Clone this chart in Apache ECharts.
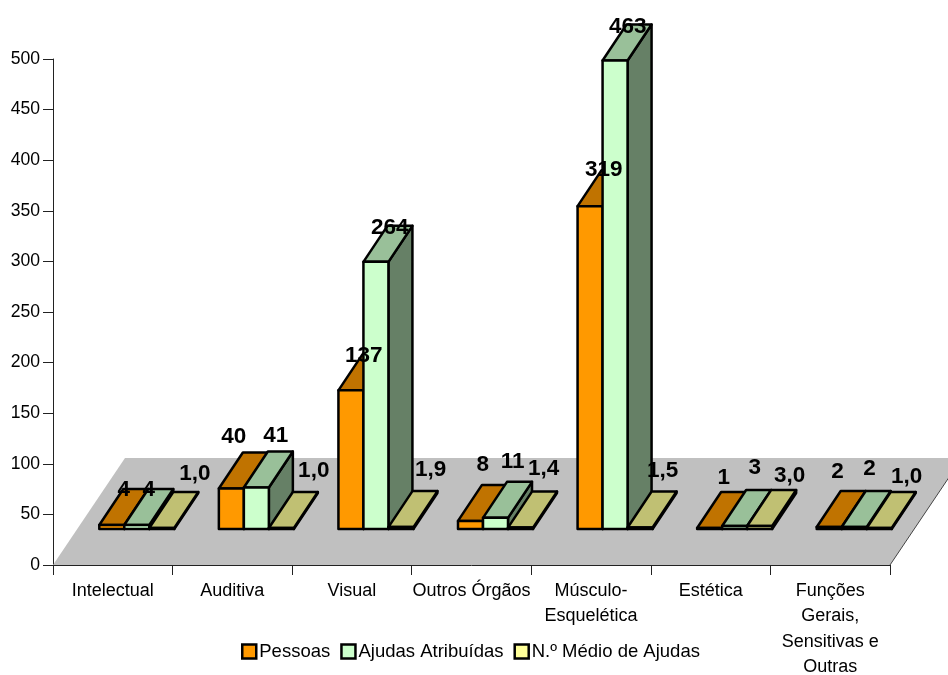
<!DOCTYPE html>
<html>
<head>
<meta charset="utf-8">
<style>html,body{margin:0;padding:0;background:#fff}#chart{width:948px;height:675px}</style>
<script src="https://cdn.jsdelivr.net/npm/echarts@6/dist/echarts.min.js"></script>
</head>
<body>
<div id="chart"></div>
<script>
const categories = ['Intelectual', 'Auditiva', 'Visual', 'Outros Órgãos', 'Músculo-\nEsquelética', 'Estética', 'Funções\nGerais,\nSensitivas e\nOutras'];
const pessoas = [4, 40, 137, 8, 319, 1, 2];
const ajudasAtribuidas = [4, 41, 264, 11, 463, 3, 2];
const nMedioAjudas = [1.0, 1.0, 1.9, 1.4, 1.5, 3.0, 1.0];

// Oblique projection of the bar depth, in pixels
const DEPTH_X = 24;
const DEPTH_Y = 36;
const FLOOR_DEPTH_X = 72;
const FLOOR_DEPTH_Y = 107;
const BAR_WIDTH = 25;

// Hand placement of the value labels, relative to the centre of each bar's back top edge
const labelShiftX = [
  [0, -9.6, 0.8, 0.2, 1.6, 2, -3.6],
  [0, 7.4, 1.8, 5.2, 0.6, 8, 3.4],
  [21, 20.4, 17.8, 11.2, 10.6, 18, 15.4]
];
const labelShiftY = [
  [0.5, -16, 1.5, -20.5, -0.5, -14.5, -19.5],
  [0.5, -16, 1.5, -20.5, 2, -22.5, -22.5],
  [-18.5, -21.5, -21.5, -23, -21, -14.5, -15.5]
];

const FONT = '"Liberation Sans", Arial, sans-serif';
const INK = '#000';

const seriesDefs = [
  { name: 'Pessoas', values: pessoas, front: '#FF9900', top: '#C07300', side: '#804D00', fmt: v => String(v) },
  { name: 'Ajudas Atribuídas', values: ajudasAtribuidas, front: '#CCFFCC', top: '#99C099', side: '#668066', fmt: v => String(v) },
  { name: 'N.º Médio de Ajudas', values: nMedioAjudas, front: '#FFFF99', top: '#C0C073', side: '#80804D', fmt: v => v.toFixed(1).replace('.', ',') }
];

function renderFloor(params, api) {
  const band = api.size([1, 0])[0];
  const base = api.coord([0, 0]);
  const end = api.coord([categories.length - 1, 0]);
  const x0 = base[0] - band / 2;
  const x1 = end[0] + band / 2;
  const y = base[1];
  return {
    type: 'group',
    children: [
      {
        type: 'polygon',
        shape: { points: [[x0, y], [x1, y], [x1 + FLOOR_DEPTH_X, y - FLOOR_DEPTH_Y], [x0 + FLOOR_DEPTH_X, y - FLOOR_DEPTH_Y]] },
        style: { fill: '#C0C0C0', stroke: null }
      },
      {
        type: 'line',
        shape: { x1: x1, y1: y, x2: x1 + FLOOR_DEPTH_X, y2: y - FLOOR_DEPTH_Y },
        style: { stroke: '#444', lineWidth: 1 }
      }
    ]
  };
}

function barRenderer(s) {
  const def = seriesDefs[s];
  return function (params, api) {
    const cat = api.value(0);
    const value = api.value(1);
    const topPt = api.coord([cat, value]);
    const basePt = api.coord([cat, 0]);
    const left = topPt[0] - BAR_WIDTH * 1.5 + DEPTH_X + s * BAR_WIDTH;
    const right = left + BAR_WIDTH;
    const yTop = topPt[1] - DEPTH_Y;
    const yBase = basePt[1] - DEPTH_Y;
    const face = { stroke: '#000', lineWidth: 2.5, lineJoin: 'round' };
    return {
      type: 'group',
      children: [
        {
          type: 'polygon', z2: s + 1,
          shape: { points: [[right, yTop], [right + DEPTH_X, yTop - DEPTH_Y], [right + DEPTH_X, yBase - DEPTH_Y], [right, yBase]] },
          style: Object.assign({ fill: def.side }, face)
        },
        {
          type: 'polygon', z2: s + 1,
          shape: { points: [[left, yTop], [left + DEPTH_X, yTop - DEPTH_Y], [right + DEPTH_X, yTop - DEPTH_Y], [right, yTop]] },
          style: Object.assign({ fill: def.top }, face)
        },
        {
          type: 'polygon', z2: s + 1,
          shape: { points: [[left, yTop], [right, yTop], [right, yBase], [left, yBase]] },
          style: Object.assign({ fill: def.front }, face)
        },
        {
          type: 'text', z2: 100,
          style: {
            x: left + BAR_WIDTH / 2 + DEPTH_X / 2 + labelShiftX[s][cat],
            y: yTop - DEPTH_Y + labelShiftY[s][cat],
            text: def.fmt(value),
            font: 'bold 22.5px ' + FONT,
            fill: INK,
            align: 'center',
            verticalAlign: 'middle'
          }
        }
      ]
    };
  };
}

const chart = echarts.init(document.getElementById('chart'), null, { renderer: 'canvas' });
chart.setOption({
  animation: false,
  backgroundColor: '#fff',
  grid: { left: 53, right: 58, top: 59, bottom: 110, containLabel: false, outerBoundsMode: 'none' },
  legend: {
    left: 236, top: 637,
    selectedMode: false,
    data: seriesDefs.map(d => d.name),
    icon: 'rect',
    itemWidth: 14, itemHeight: 14, itemGap: 10,
    itemStyle: { borderColor: '#000', borderWidth: 2.5 },
    textStyle: { fontFamily: FONT, fontSize: 18.5, color: INK, padding: [0, 0, 0, -2] }
  },
  xAxis: {
    type: 'category',
    data: categories,
    boundaryGap: true,
    axisLine: { lineStyle: { color: '#222', width: 1 } },
    axisTick: { show: true, length: 10, alignWithLabel: false, lineStyle: { color: '#222', width: 1 } },
    axisLabel: { interval: 0, margin: 13, fontFamily: FONT, fontSize: 18, lineHeight: 25.5, color: INK, verticalAlign: 'top' },
    splitLine: { show: false }
  },
  yAxis: {
    type: 'value',
    min: 0, max: 500, interval: 50,
    axisLine: { show: true, lineStyle: { color: '#222', width: 1 } },
    axisTick: { show: true, length: 10, lineStyle: { color: '#222', width: 1 } },
    axisLabel: { margin: 13, fontFamily: FONT, fontSize: 17.6, color: INK, padding: [2, 0, 0, 0] },
    splitLine: { show: false }
  },
  series: [
    { type: 'custom', name: 'Piso', z: 1, silent: true, renderItem: renderFloor, data: [[0, 0]], encode: { x: 0, y: 1 } }
  ].concat(seriesDefs.map((d, s) => ({
    type: 'custom',
    name: d.name,
    z: 2,
    clip: false,
    itemStyle: { color: d.front },
    renderItem: barRenderer(s),
    encode: { x: 0, y: 1 },
    data: d.values.map((v, i) => [i, v])
  })))
});
</script>
</body>
</html>
